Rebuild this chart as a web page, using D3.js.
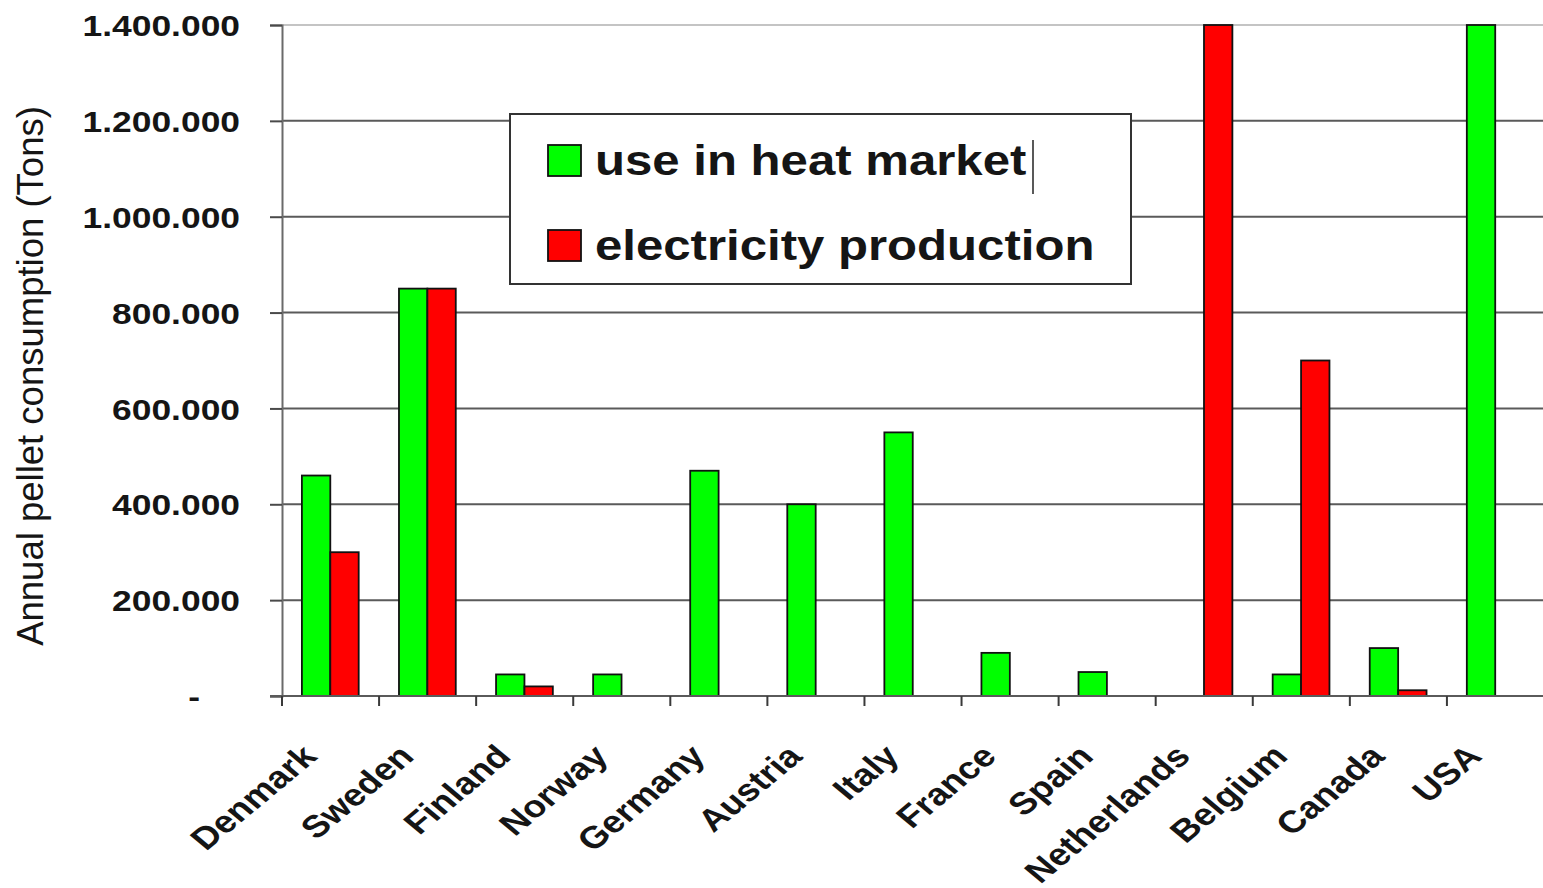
<!DOCTYPE html>
<html>
<head>
<meta charset="utf-8">
<script src="https://cdn.jsdelivr.net/npm/d3@7"></script>
<style>
  html, body { margin: 0; padding: 0; background: #fff; }
  svg { display: block; }
  text { font-family: "Liberation Sans", Arial, Helvetica, sans-serif; fill: #151515; }
</style>
</head>
<body>
<svg id="chart" width="1543" height="888"></svg>
<script>
// Annual pellet consumption per country (tons)
const countries = ["Denmark", "Sweden", "Finland", "Norway", "Germany", "Austria", "Italy",
                   "France", "Spain", "Netherlands", "Belgium", "Canada", "USA"];
const seriesNames = ["use in heat market", "electricity production"];
const heatMarket  = [460000, 850000, 45000, 45000, 470000, 400000, 550000, 90000, 50000, 0, 45000, 100000, 1400000];
const electricity = [300000, 850000, 20000, 0, 0, 0, 0, 0, 0, 1400000, 700000, 12000, 0];
const yTicks = [0, 200000, 400000, 600000, 800000, 1000000, 1200000, 1400000];
const yTickLabels = ["-", "200.000", "400.000", "600.000", "800.000", "1.000.000", "1.200.000", "1.400.000"];
const colors = ["#00ff00", "#ff0000"];

const svg = d3.select("#chart");
const plot = { left: 282, right: 1544, top: 25, bottom: 696 };
const stretch = 1.2; // horizontal text stretch

const x = d3.scaleBand().domain(countries).range([plot.left, plot.right]).padding(0);
const x1 = d3.scaleBand().domain(seriesNames)
  .range([x.bandwidth() * 0.205, x.bandwidth() * 0.79]).padding(0);
const y = d3.scaleLinear().domain([0, 1400000]).range([plot.bottom, plot.top]);

// horizontal gridlines
svg.append("g").selectAll("line")
  .data(yTicks.filter(d => d > 0))
  .join("line")
  .attr("x1", plot.left).attr("x2", 1543)
  .attr("y1", d => y(d)).attr("y2", d => y(d))
  .attr("stroke", d => d === 1400000 ? "#c4c4c4" : "#5a5a5a")
  .attr("stroke-width", 2);

// y axis
const yAxis = svg.append("g")
  .attr("transform", `translate(${plot.left},0)`)
  .call(d3.axisLeft(y).tickValues(yTicks).tickSize(12).tickFormat((d, i) => yTickLabels[i]));
yAxis.select(".domain").attr("stroke", "#6a6a6a").attr("stroke-width", 2);
yAxis.selectAll(".tick line").attr("stroke", "#4a4a4a").attr("stroke-width", 2);
yAxis.selectAll(".tick text")
  .attr("x", (d) => d === 0 ? -82 / stretch : -42 / stretch)
  .attr("dy", "0.36em")
  .attr("transform", `scale(${stretch},1)`)
  .attr("font-size", 29.5)
  .attr("font-weight", "bold")
  .attr("fill", "#1a1a1a");

// bars
const groups = svg.append("g").selectAll("g")
  .data(countries)
  .join("g")
  .attr("transform", d => `translate(${x(d)},0)`);

groups.selectAll("rect")
  .data((c, i) => [
    { key: seriesNames[0], value: heatMarket[i], color: colors[0] },
    { key: seriesNames[1], value: electricity[i], color: colors[1] }
  ].filter(d => d.value > 0))
  .join("rect")
  .attr("x", d => x1(d.key))
  .attr("width", x1.bandwidth())
  .attr("y", d => y(d.value))
  .attr("height", d => y(0) - y(d.value))
  .attr("fill", d => d.color)
  .attr("stroke", "#111")
  .attr("stroke-width", 1.8);

// x axis line and category boundary ticks
svg.append("line")
  .attr("x1", plot.left - 12).attr("x2", 1543)
  .attr("y1", plot.bottom).attr("y2", plot.bottom)
  .attr("stroke", "#5a5a5a").attr("stroke-width", 2);

const boundaries = countries.map(c => x(c)).concat([x(countries[countries.length - 1]) + x.bandwidth()]);
svg.append("g").selectAll("line")
  .data(boundaries)
  .join("line")
  .attr("x1", d => d).attr("x2", d => d)
  .attr("y1", plot.bottom).attr("y2", plot.bottom + 10)
  .attr("stroke", "#3a3a3a").attr("stroke-width", 2);

// rotated category labels
svg.append("g").selectAll("g")
  .data(countries)
  .join("g")
  .attr("transform", d => `translate(${x(d) + x.bandwidth() / 2 - 12},758) scale(${stretch},1) rotate(-45)`)
  .append("text")
  .attr("text-anchor", "end")
  .attr("font-size", 31)
  .attr("font-weight", "bold")
  .text(d => d);

// y axis title
svg.append("text")
  .attr("transform", "translate(43,376) rotate(-90)")
  .attr("text-anchor", "middle")
  .attr("font-size", 36.5)
  .text("Annual pellet consumption (Tons)");

// legend
const legend = svg.append("g");
legend.append("rect")
  .attr("x", 510).attr("y", 114).attr("width", 621).attr("height", 170)
  .attr("fill", "#fff").attr("stroke", "#333").attr("stroke-width", 2);

const legendRows = legend.selectAll("g.row")
  .data(seriesNames)
  .join("g")
  .attr("class", "row")
  .attr("transform", (d, i) => `translate(548,${145 + i * 85})`);

legendRows.append("rect")
  .attr("width", 33).attr("height", 31)
  .attr("fill", (d, i) => colors[i])
  .attr("stroke", "#111").attr("stroke-width", 1.8);

legendRows.append("g")
  .attr("transform", `translate(47,30) scale(1.17,1)`)
  .append("text")
  .attr("font-size", 42)
  .attr("font-weight", "bold")
  .text(d => d);

// text caret after the first legend entry
legend.append("line")
  .attr("x1", 1033).attr("x2", 1033)
  .attr("y1", 140).attr("y2", 194)
  .attr("stroke", "#222").attr("stroke-width", 1.5);
</script>
</body>
</html>
